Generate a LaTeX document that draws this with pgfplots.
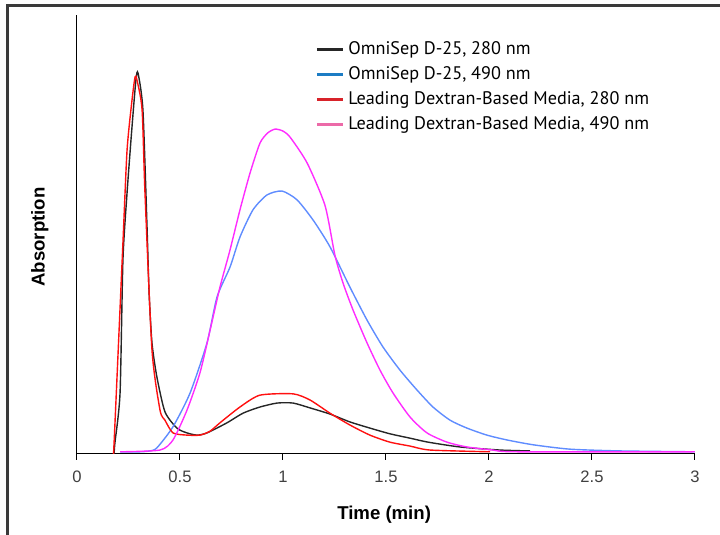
\documentclass[border=0pt]{standalone}
\usepackage{fontspec}
\setmainfont{Liberation Sans}
\newfontfamily\legfont{PT Sans}
\usepackage{pgfplots}
\pgfplotsset{compat=1.18}

\definecolor{lineblack}{HTML}{262626}
\definecolor{lineblue}{HTML}{5F8CFF}
\definecolor{linered}{HTML}{FF1010}
\definecolor{linemag}{HTML}{FF2CFF}
\definecolor{legblue}{HTML}{1C7CC4}
\definecolor{legred}{HTML}{D8232A}
\definecolor{legpink}{HTML}{EC6AA8}
\definecolor{frame}{HTML}{3A3A3A}

\begin{document}
\begin{tikzpicture}
\begin{axis}[
    at={(0,0)}, anchor=south west,
    scale only axis,
    width=309pt, height=219.5pt,
    xmin=0, xmax=3, ymin=0, ymax=1,
    axis lines=left,
    axis line style={-, black, line width=0.5pt},
    xtick={0,0.5,...,3},
    ytick=\empty,
    tick align=outside,
    major tick length=3pt,
    tick style={black, line width=0.5pt},
    xticklabel style={font=\fontsize{8.3}{10}\selectfont, text=black!75, yshift=-2pt},
    /pgf/number format/assume math mode=true,
    xlabel={Time (min)},
    ylabel={Absorption},
    xlabel style={font=\fontsize{9.3}{11}\selectfont\bfseries, at={(axis description cs:0.497,-0.139)}, anchor=center},
    ylabel style={font=\fontsize{9.3}{11}\selectfont\bfseries, at={(axis description cs:-0.06,0.494)}, anchor=center},
    legend style={at={(axis description cs:0.385,0.95)}, anchor=north west,
        draw=none, fill=none, inner sep=0pt,
        font=\legfont\fontsize{9.1}{10}\selectfont,
        row sep=0.5pt},
    legend cell align=left,
    legend image code/.code={\draw[#1, line width=1.5pt] (0pt,0pt) -- (13pt,0pt);},
    every axis plot/.append style={line width=0.7pt, smooth, tension=0.4},
]
% OmniSep D-25, 280 nm
\addplot[lineblack, forget plot] coordinates {
(0.180,0.000) (0.184,0.025) (0.209,0.139) (0.223,0.442) (0.243,0.595)
(0.267,0.745) (0.286,0.852) (0.296,0.868) (0.320,0.784) (0.340,0.517)
(0.350,0.367) (0.364,0.253) (0.388,0.175) (0.427,0.096) (0.485,0.059)
(0.534,0.048) (0.583,0.043) (0.631,0.048) (0.728,0.071) (0.806,0.093)
(0.888,0.107) (0.971,0.116) (1.049,0.116) (1.131,0.105) (1.228,0.091)
(1.325,0.073) (1.422,0.059) (1.519,0.046) (1.617,0.036) (1.704,0.027)
(1.859,0.016) (2.053,0.009) (2.199,0.007)
};
% OmniSep D-25, 490 nm
\addplot[lineblue, forget plot] coordinates {
(0.209,0.005) (0.306,0.005) (0.354,0.007) (0.388,0.014) (0.466,0.062)
(0.549,0.139) (0.631,0.253) (0.680,0.358) (0.743,0.426) (0.791,0.494)
(0.854,0.556) (0.922,0.590) (0.995,0.599) (1.068,0.579) (1.146,0.533)
(1.228,0.472) (1.325,0.380) (1.408,0.305) (1.485,0.244) (1.568,0.191)
(1.650,0.146) (1.728,0.107) (1.811,0.077) (1.893,0.059) (1.990,0.043)
(2.087,0.032) (2.214,0.021) (2.393,0.011) (2.636,0.007) (3.000,0.005)
};
% Leading Dextran-Based Media, 280 nm
\addplot[linered, forget plot] coordinates {
(0.175,0.000) (0.180,0.025) (0.223,0.481) (0.243,0.692) (0.267,0.806)
(0.282,0.859) (0.291,0.852) (0.316,0.784) (0.330,0.595) (0.364,0.237)
(0.403,0.100) (0.427,0.077) (0.466,0.048) (0.534,0.043) (0.597,0.043)
(0.646,0.052) (0.694,0.071) (0.791,0.107) (0.888,0.134) (1.049,0.137)
(1.131,0.123) (1.228,0.093) (1.325,0.066) (1.422,0.043) (1.519,0.027)
(1.617,0.018) (1.714,0.009) (2.005,0.005)
};
% Leading Dextran-Based Media, 490 nm
\addplot[linemag, forget plot] coordinates {
(0.209,0.005) (0.403,0.009) (0.466,0.032) (0.534,0.100) (0.597,0.185)
(0.646,0.282) (0.694,0.380) (0.743,0.465) (0.791,0.556) (0.840,0.640)
(0.888,0.708) (0.925,0.731) (0.961,0.740) (0.998,0.736) (1.034,0.722)
(1.117,0.663) (1.204,0.566)
(1.252,0.453) (1.291,0.390) (1.340,0.328) (1.408,0.253) (1.471,0.191)
(1.534,0.139) (1.617,0.084) (1.699,0.048) (1.796,0.027) (1.893,0.016)
(2.019,0.009) (2.136,0.005) (3.000,0.005)
};
\addlegendimage{lineblack}
\addlegendentry{OmniSep D-25, 280 nm}
\addlegendimage{legblue}
\addlegendentry{OmniSep D-25, 490 nm}
\addlegendimage{legred}
\addlegendentry{Leading Dextran-Based Media, 280 nm}
\addlegendimage{legpink}
\addlegendentry{Leading Dextran-Based Media, 490 nm}
\end{axis}
\draw[frame, line width=1.5pt] (-34.5pt,-40.5pt) -- (-34.5pt,224pt) -- (321.5pt,224pt);
\pgfresetboundingbox
\path (-38.5pt,-40.5pt) rectangle (321.5pt,227pt);
\end{tikzpicture}
\end{document}
